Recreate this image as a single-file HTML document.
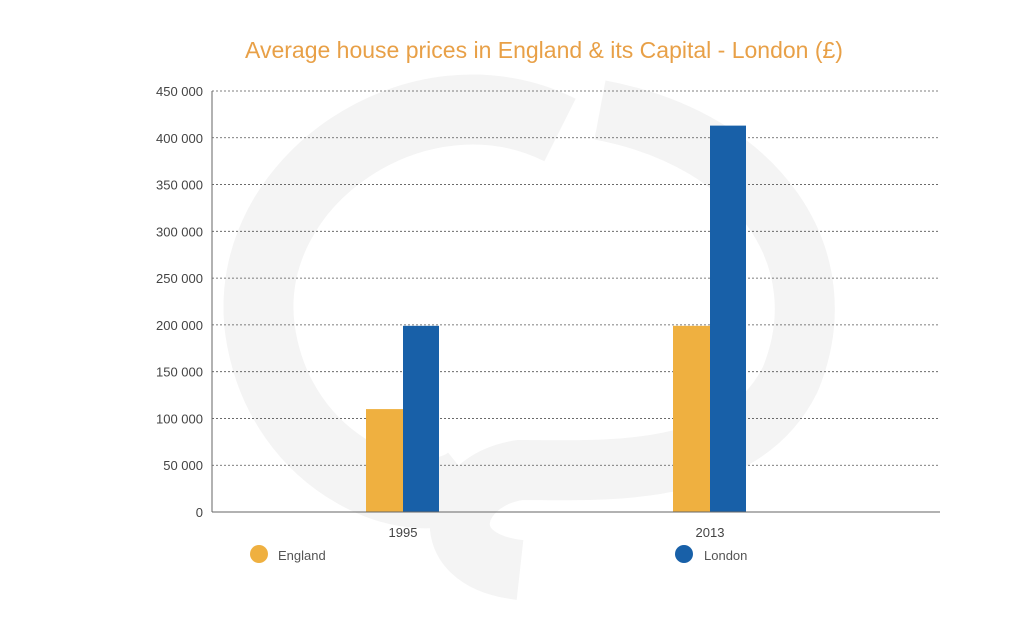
<!DOCTYPE html>
<html><head><meta charset="utf-8"><style>
body{margin:0;background:#fff;}
svg{display:block;font-family:"Liberation Sans",sans-serif;}
</style></head><body>
<svg id="chart" width="1024" height="626">
<g fill="none" stroke="#f4f4f4">
<path d="M560 130 C 420 60 240 180 260 330 C 280 470 420 520 470 480" stroke-width="70"/>
<path d="M600 110 C 760 140 840 260 790 380 C 740 480 600 470 520 470 C 450 480 430 560 520 570" stroke-width="60"/>
</g>
<text x="544" y="58" text-anchor="middle" font-size="23" fill="#e8a047">Average house prices in England &amp; its Capital - London (£)</text>
<g id="grid"></g><g id="bars"></g><g id="labels"></g>
<line x1="212" y1="91" x2="212" y2="512" stroke="#666"/>
<line x1="212" y1="512" x2="940" y2="512" stroke="#666"/>
<g>
<circle cx="259" cy="554" r="9" fill="#efb040"/>
<text x="278" y="560" font-size="13" fill="#555">England</text>
<circle cx="684" cy="554" r="9" fill="#1860a8"/>
<text x="704" y="560" font-size="13" fill="#555">London</text>
</g>
</svg>
<script>
const categories=["1995","2013"];
const england=[110000,199000];
const london=[199000,413000];
const ticks=[0,50000,100000,150000,200000,250000,300000,350000,400000,450000];
const tickLabels=["0","50 000","100 000","150 000","200 000","250 000","300 000","350 000","400 000","450 000"];
const NS="http://www.w3.org/2000/svg";
function y(v){return 512-v/450000*421;}
function xc(i){return 403+i*307;}
function mk(t,a,p){const e=document.createElementNS(NS,t);for(const k in a)e.setAttribute(k,a[k]);p.appendChild(e);return e;}
const grid=document.getElementById('grid'),bars=document.getElementById('bars'),labels=document.getElementById('labels');
ticks.forEach((t,i)=>{
 if(t>0){const l=mk('line',{x1:212,x2:940,y1:y(t),y2:y(t),stroke:'#555','stroke-dasharray':'2,2','stroke-width':0.8},grid);
 
 }
 const tx=mk('text',{x:203,y:y(t)+5,'text-anchor':'end','font-size':13,fill:'#444'},labels);
 tx.textContent=tickLabels[i];
 
 
});
categories.forEach((c,i)=>{
 const b1=mk('rect',{x:xc(i)-37,y:y(england[i]),width:37,height:512-y(england[i]),fill:'#efb040'},bars);
 
 
 const b2=mk('rect',{x:xc(i),y:y(london[i]),width:36,height:512-y(london[i]),fill:'#1860a8'},bars);
 
 
 const t=mk('text',{x:xc(i),y:537,'text-anchor':'middle','font-size':13,fill:'#444'},labels);
 t.textContent=c;
 
 
});
</script>
</body></html>
